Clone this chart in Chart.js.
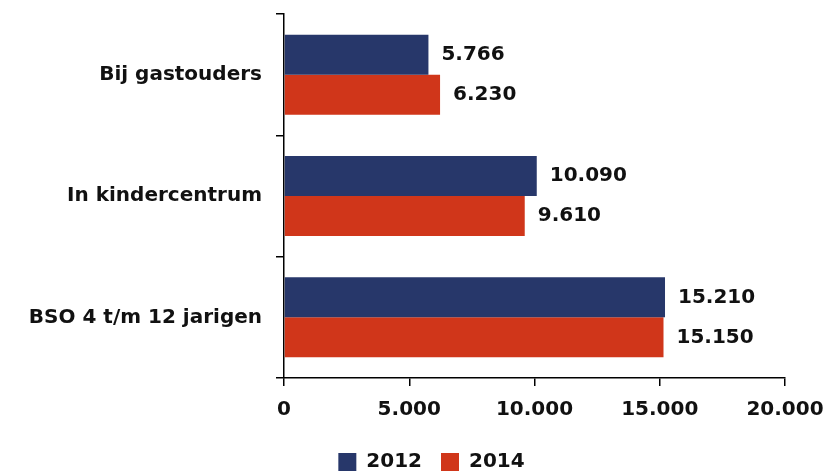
<!DOCTYPE html>
<html>
<head>
<meta charset="utf-8">
<script src="https://cdn.jsdelivr.net/npm/chart.js@4"></script>
<style>
  html, body { margin: 0; padding: 0; background: #fff; }
  #wrap { width: 827px; height: 472px; }
</style>
</head>
<body>
<div id="wrap"><canvas id="barChart"></canvas></div>
<script>
const categories = ['Bij gastouders', 'In kindercentrum', 'BSO 4 t/m 12 jarigen'];
const values2012 = [5766, 10090, 15210];
const values2014 = [6230, 9610, 15150];
const xTicks = [0, 5000, 10000, 15000, 20000];

const FONT = '"DejaVu Sans", sans-serif';

// thousands separator as in Dutch: 15.210
function nl(v) {
  return String(v).replace(/\B(?=(\d{3})+(?!\d))/g, '.');
}

// value labels right of each bar
const valueLabels = {
  id: 'valueLabels',
  afterDatasetsDraw(chart) {
    const ctx = chart.ctx;
    ctx.save();
    ctx.font = 'bold 20px ' + FONT;
    ctx.fillStyle = '#111';
    ctx.textAlign = 'left';
    ctx.textBaseline = 'middle';
    chart.data.datasets.forEach((ds, i) => {
      chart.getDatasetMeta(i).data.forEach((bar, j) => {
        ctx.fillText(nl(ds.data[j]), bar.x + 13, bar.y);
      });
    });
    ctx.restore();
  }
};

// the original legend sits a bit right of the canvas centre
const legendShift = {
  id: 'legendShift',
  afterLayout(chart) {
    chart.legend.left += 39;
    chart.legend.right += 39;
  }
};

new Chart(document.getElementById('barChart'), {
  type: 'bar',
  data: {
    labels: categories,
    datasets: [
      { label: '2012', data: values2012, backgroundColor: '#27376A', borderWidth: 0 },
      { label: '2014', data: values2014, backgroundColor: '#D0361A', borderWidth: 0 }
    ]
  },
  options: {
    indexAxis: 'y',
    responsive: true,
    maintainAspectRatio: false,
    animation: false,
    categoryPercentage: 0.66,
    barPercentage: 1.0,
    layout: { padding: { top: 14, right: 42, left: 0, bottom: 0 } },
    scales: {
      x: {
        min: 0,
        max: 20000,
        afterBuildTicks(scale) {
          scale.ticks = xTicks.map(v => ({ value: v }));
        },
        afterFit(scale) {
          scale.height = 55;
          scale.paddingLeft = 0;
          scale.paddingRight = 0;
        },
        grid: { display: true, drawOnChartArea: false, tickLength: 8, color: '#000', lineWidth: 1.5 },
        border: { display: true, color: '#000', width: 1.5 },
        ticks: {
          color: '#111',
          padding: 12,
          maxRotation: 0,
          font: { family: FONT, size: 20, weight: 'bold' },
          callback: v => nl(v)
        }
      },
      y: {
        afterFit(scale) {
          scale.width = 284;
          scale.paddingTop = 0;
          scale.paddingBottom = 0;
        },
        grid: { display: true, drawOnChartArea: false, offset: true, tickLength: 8, color: '#000', lineWidth: 1.5 },
        border: { display: true, color: '#000', width: 1.5 },
        ticks: {
          color: '#111',
          padding: 14,
          font: { family: FONT, size: 20, weight: 'bold' }
        }
      }
    },
    plugins: {
      legend: {
        position: 'bottom',
        maxHeight: 39,
        labels: {
          color: '#111',
          boxWidth: 18,
          boxHeight: 18,
          padding: 19,
          font: { family: FONT, size: 20, weight: 'bold' }
        }
      },
      tooltip: { enabled: false }
    }
  },
  plugins: [valueLabels, legendShift]
});
</script>
</body>
</html>
